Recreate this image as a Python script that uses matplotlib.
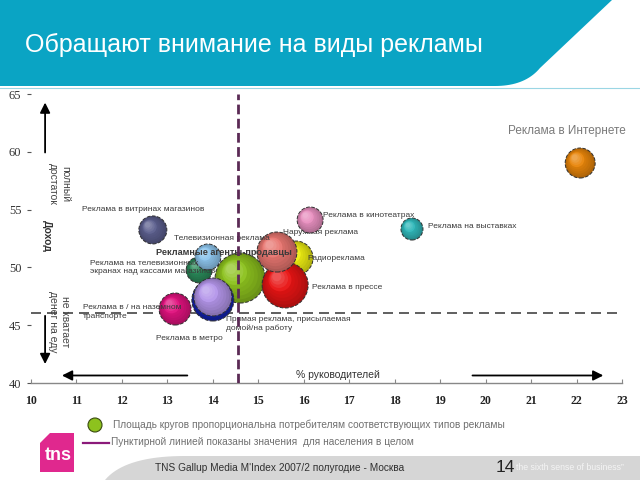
import matplotlib
matplotlib.use("Agg")
import matplotlib.pyplot as plt
from matplotlib.patches import Polygon, Circle
from matplotlib.lines import Line2D
from matplotlib.transforms import offset_copy
import matplotlib.colors as mcolors
import numpy as np

plt.rcParams['font.family'] = ['Liberation Sans', 'DejaVu Sans']

# ---------------- data ----------------
names = ["Радиореклама", "Рекламные агенты-продавцы",
         "Реклама на телевизионных экранах над кассами магазинов",
         "Телевизионная реклама", "Реклама в прессе", "Наружная реклама",
         "Прямая реклама, присылаемая домой/на работу", "Реклама в метро",
         "Реклама в / на наземном транспорте", "Реклама в витринах магазинов",
         "Реклама в кинотеатрах", "Реклама на выставках", "Реклама в Интернете"]
managers_pct = [15.83, 14.60, 13.70, 13.89, 15.59, 15.41, 14.00, 14.00, 13.17, 12.68, 16.14, 18.38, 22.08]
income_index = [50.81, 49.08, 49.78, 50.90, 48.48, 51.33, 47.18, 47.44, 46.40, 53.24, 54.10, 53.32, 59.03]
audience_size = [600, 1296, 350, 350, 1097, 829, 914, 749, 531, 406, 350, 251, 466]
colors = ["#EEEE12", "#8DC21E", "#2A8A5A", "#8EC6EE", "#E81414", "#E87670",
          "#1424B8", "#B496EA", "#E0127E", "#5C5F8E", "#E890C0", "#30B8BA", "#E8850A"]

pop_managers = 14.55
pop_income = 46.05

x_ticks = list(range(10, 24))
y_ticks = [40, 45, 50, 55, 60, 65]

# labels: text, x, y, ha, fontsize, weight
labels = [
    ("Реклама в витринах магазинов", 12.46, 54.97, "center", 6, "normal"),
    ("Реклама в кинотеатрах", 16.42, 54.53, "left", 6, "normal"),
    ("Наружная реклама", 15.54, 53.06, "left", 6, "normal"),
    ("Реклама на выставках", 18.73, 53.58, "left", 6, "normal"),
    ("Телевизионная реклама", 14.20, 52.54, "center", 6, "normal"),
    ("Рекламные агенты-продавцы", 14.25, 51.25, "center", 6.6, "bold"),
    ("Реклама на телевизионных\nэкранах над кассами магазинов", 11.30, 49.99, "left", 6, "normal"),
    ("Радиореклама", 16.09, 50.73, "left", 6, "normal"),
    ("Реклама в прессе", 16.18, 48.30, "left", 6, "normal"),
    ("Реклама в / на наземном\nтранспорте", 11.14, 46.14, "left", 6, "normal"),
    ("Прямая реклама, присылаемая\nдомой/на работу", 14.29, 45.10, "left", 6, "normal"),
    ("Реклама в метро", 13.48, 43.81, "center", 6, "normal"),
    ("Реклама в Интернете", 21.79, 61.80, "center", 8.5, "normal"),
]

# ---------------- figure ----------------
W, H = 640, 480
fig = plt.figure(figsize=(6.4, 4.8), dpi=100)
fig.patch.set_facecolor("white")

def P(x, y):
    return (x / W, 1 - y / H)

t = np.linspace(0, 1, 20)

# header
hdr = [P(0, 0), P(612, 0)]
p0 = np.array([612, 0]); p1 = np.array([540, 68])
for ti in np.linspace(0, 1, 10):
    hdr.append(P(*(p0 + (p1 - p0) * ti)))
for ti in t:
    a = np.array([540, 68]); b = np.array([525, 86]); c = np.array([495, 86])
    hdr.append(P(*((1 - ti) ** 2 * a + 2 * (1 - ti) * ti * b + ti ** 2 * c)))
hdr += [P(0, 86)]
fig.patches.append(Polygon(hdr, closed=True, transform=fig.transFigure,
                           facecolor="#0AA4C4", edgecolor="none", zorder=0))
fig.lines.append(Line2D([0, 1], [1 - 88 / H] * 2, transform=fig.transFigure,
                        color="#9AD6E4", lw=0.8))
fig.text(25 / W, 1 - 45 / H, "Обращают внимание на виды рекламы", color="white",
         fontsize=18, va="center", ha="left")

# footer grey band
ft = [P(105, 480)]
for ti in t:
    a = np.array([105, 480]); b = np.array([125, 456]); c = np.array([185, 456])
    ft.append(P(*((1 - ti) ** 2 * a + 2 * (1 - ti) * ti * b + ti ** 2 * c)))
ft += [P(640, 456), P(640, 480)]
fig.patches.append(Polygon(ft, closed=True, transform=fig.transFigure,
                           facecolor="#D6D6D6", edgecolor="none", zorder=0))

# TNS logo
logo = [P(40, 443), P(50, 433), P(74, 433), P(74, 472), P(40, 472)]
fig.patches.append(Polygon(logo, closed=True, transform=fig.transFigure,
                           facecolor="#E0288E", edgecolor="none", zorder=1))
fig.text(58 / W, 1 - 455 / H, "tns", color="white", fontsize=13, fontweight="bold",
         ha="center", va="center", zorder=2)

fig.text(155 / W, 1 - 468 / H, "TNS Gallup Media M'Index 2007/2 полугодие - Москва",
         fontsize=7.3, color="#303030", va="center", ha="left")
fig.text(496 / W, 1 - 467 / H, "14", fontsize=12.5, color="#222222", va="center", ha="left")
fig.text(516 / W, 1 - 468 / H, "the sixth sense of business\u201d", fontsize=6.3,
         color="#F4F4F4", va="center", ha="left")

# legend notes
leg_circle = Circle((95 / 100, (480 - 425) / 100), 0.07, transform=fig.dpi_scale_trans,
                    facecolor="#8DC21E", edgecolor="#3A4A10", lw=0.8)
fig.patches.append(leg_circle)
fig.text(113 / W, 1 - 425 / H,
         "Площадь кругов пропорциональна потребителям соответствующих типов рекламы",
         fontsize=7.3, color="#707070", va="center", ha="left")
fig.lines.append(Line2D([83 / W, 109 / W], [1 - 443 / H] * 2, transform=fig.transFigure,
                        color="#8B1A7A", lw=1.6))
fig.text(111 / W, 1 - 442 / H,
         "Пунктирной линией показаны значения  для населения в целом",
         fontsize=7.3, color="#707070", va="center", ha="left")

# ---------------- axes ----------------
ax = fig.add_axes([31 / W, 1 - 383 / H, 591 / W, 289 / H])
ax.set_facecolor("none")
ax.set_xlim(10, 23)
ax.set_ylim(40, 65)
for s in ["left", "top", "right"]:
    ax.spines[s].set_visible(False)
ax.spines["bottom"].set_color("#888888")
ax.spines["bottom"].set_linewidth(1)
ax.set_xticks(x_ticks)
ax.set_yticks(y_ticks)
ax.set_xticklabels([str(v) for v in x_ticks], fontsize=8.5, family="Liberation Serif",
                   fontweight="bold", color="#222222")
ax.set_yticklabels([str(v) for v in y_ticks], fontsize=9, family="Liberation Serif",
                   color="#333333")
ax.tick_params(axis="x", direction="in", length=3, pad=9, color="#888888")
ax.tick_params(axis="y", direction="out", length=3, pad=4, color="#555555")

# population reference lines
ax.axhline(pop_income, color="#444444", lw=1.2, ls=(0, (6, 3.6)), zorder=2)
ax.axvline(pop_managers, color="#5B2A55", lw=2.0, ls=(0, (3.5, 1.6)), zorder=20)

# bubbles with pseudo-3D shading
def blend(c, w, f):
    c = np.array(mcolors.to_rgb(c)); w = np.array(mcolors.to_rgb(w))
    return tuple(c * (1 - f) + w * f)

n_layers = 9
for i, (xv, yv, s, c) in enumerate(zip(managers_pct, income_index, audience_size, colors)):
    base_z = 3 + i * 0.1
    r_pt = np.sqrt(s) / 2
    ax.scatter([xv], [yv], s=s, color=blend(c, "black", 0.25), edgecolors="#303030",
               linewidths=0.7, linestyles="--", zorder=base_z)
    for k in range(1, n_layers):
        f = k / n_layers
        rr = r_pt * (1 - 0.9 * f)
        off = (r_pt - rr) * 0.45
        tr = offset_copy(ax.transData, fig=fig, x=-off, y=off, units="points")
        col = blend(c, "black", 0.25 * (1 - f) ** 2) if f < 0.5 else blend(c, "white", (f - 0.5) * 0.7)
        ax.scatter([xv], [yv], s=(2 * rr) ** 2, color=col, edgecolors="none",
                   transform=tr, zorder=base_z + k * 0.005)

# labels
for (txt, xv, yv, ha, fs, fw) in labels:
    z = 2.5 if txt.startswith("Наружная") else 15
    ax.text(xv, yv, txt, ha=ha, va="center", fontsize=fs, fontweight=fw,
            color="#7A7A7A" if fs > 8 else "#3A3A3A", zorder=z, linespacing=1.25)

# axis annotations
ax.text(16.75, 40.7, "% руководителей", fontsize=7.5, color="#333333",
        ha="center", va="center", zorder=15)
arrow_kw = dict(arrowstyle="-|>,head_length=0.6,head_width=0.3", color="black", lw=1.3)
ax.annotate("", xy=(10.62, 40.65), xytext=(13.5, 40.65), arrowprops=arrow_kw)
ax.annotate("", xy=(22.65, 40.65), xytext=(19.65, 40.65), arrowprops=arrow_kw)
ax.annotate("", xy=(10.31, 64.5), xytext=(10.31, 59.7), arrowprops=arrow_kw)
ax.annotate("", xy=(10.31, 41.4), xytext=(10.31, 46.05), arrowprops=arrow_kw)

ax.text(10.62, 57.2, "полный\nдостаток", rotation=-90, fontsize=7.5, color="#444444",
        ha="center", va="center", linespacing=1.3)
ax.text(10.35, 52.7, "Доход", rotation=-90, fontsize=7.5, color="#333333",
        ha="center", va="center", fontweight="bold")
ax.text(10.62, 45.3, "не хватает\nденег на еду", rotation=-90, fontsize=7.5,
        color="#444444", ha="center", va="center", linespacing=1.3)

fig.savefig("out.png", dpi=100)
